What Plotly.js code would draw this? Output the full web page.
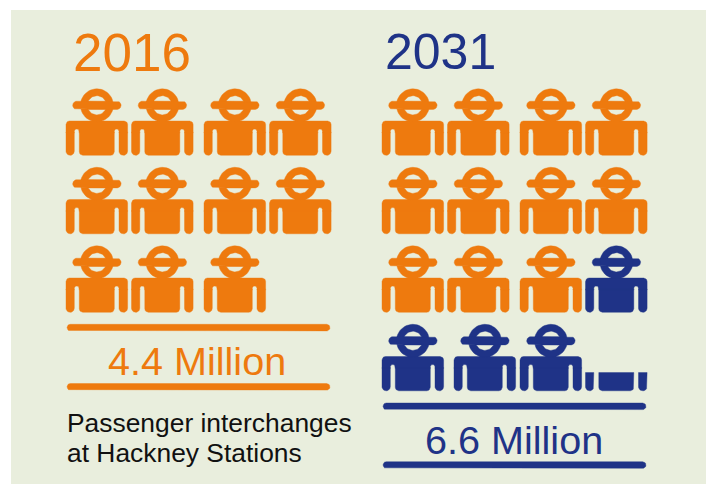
<!DOCTYPE html>
<html>
<head>
<meta charset="utf-8">
<script src="https://cdn.plot.ly/plotly-3.0.0.min.js"></script>
<style>html,body{margin:0;padding:0;background:#fff}#chart{width:710px;height:484px}</style>
</head>
<body>
<div id="chart"></div>
<script>
// ---- data ----
var years = ['2016', '2031'];
var existingIcons = [11, 11];
var addedIcons = [0, 4.275];
var totalLabels = ['4.4 Million', '6.6 Million'];
var captionLines = ['Passenger interchanges', 'at Hackney Stations'];

// ---- style / layout ----
var ORANGE = '#EE7A0E', BLUE = '#1F3387', PANEL = '#E9EEDD';
var FONT = 'Liberation Sans, Arial, sans-serif';
var blockLeft = [66, 382];
var colOffsets = [0, 65.5, 138, 203.5];
var lastRowColOffsets = [0, 72, 138, 203.5];
var firstRowTop = 89, rowPitch = 78.5, iconH = 66.3;

function roundPoly(pts) {
  var out = [], n = pts.length;
  for (var i = 0; i < n; i++) {
    var v = pts[i], a = pts[(i + n - 1) % n], b = pts[(i + 1) % n], r = v[2];
    var la = Math.hypot(v[0] - a[0], v[1] - a[1]), lb = Math.hypot(b[0] - v[0], b[1] - v[1]);
    var dp = [(v[0] - a[0]) / la, (v[1] - a[1]) / la], dn = [(b[0] - v[0]) / lb, (b[1] - v[1]) / lb];
    var c = [v[0] - r * dp[0] + r * dn[0], v[1] - r * dp[1] + r * dn[1]];
    for (var k = 0; k <= 6; k++) {
      var t = k / 6 * Math.PI / 2;
      out.push([c[0] + r * (-Math.cos(t) * dn[0] + Math.sin(t) * dp[0]),
                c[1] + r * (-Math.cos(t) * dn[1] + Math.sin(t) * dp[1])]);
    }
  }
  return out;
}
function roundedRect(x0, y0, x1, y1, r) {
  return roundPoly([[x0, y0, r], [x1, y0, r], [x1, y1, r], [x0, y1, r]]);
}
function arc(cx, cy, r, t0, t1, steps) {
  var out = [];
  for (var i = 0; i <= steps; i++) {
    var t = t0 + (t1 - t0) * i / steps;
    out.push([cx + r * Math.cos(t), cy + r * Math.sin(t)]);
  }
  return out;
}
function iconPolys() {
  var cx = 30.9, cy = 16.3, rO = 16.5, rI = 9.6, hb = 4.1;
  var a = Math.asin(hb / rI);
  var H = iconH, band = 44;
  return [
    arc(cx, cy, rO, 0, 2 * Math.PI, 48),
    arc(cx, cy, rI, Math.PI + a, 2 * Math.PI - a, 20).reverse(),
    arc(cx, cy, rI, a, Math.PI - a, 20).reverse(),
    roundedRect(cx - 24.2, cy - hb, cx + 24.2, cy + hb, hb - 0.01),
    // shoulder band with the two rounded slit tops
    roundPoly([[0, 32, 3.5], [61.6, 32, 3.5], [61.6, band, 0.01], [53, band, 0.01], [53, 40, 2.3],
               [48.3, 40, 2.3], [48.3, band, 0.01], [13.3, band, 0.01], [13.3, 40, 2.4], [8.3, 40, 2.4],
               [8.3, band, 0.01], [0, band, 0.01]]),
    // arms and torso
    roundPoly([[0, band - 1, 0.01], [8.3, band - 1, 0.01], [8.3, H, 4.1], [0, H, 4.1]]),
    roundPoly([[13.3, band - 1, 0.01], [48.3, band - 1, 0.01], [48.3, H, 3.5], [13.3, H, 3.5]]),
    roundPoly([[53, band - 1, 0.01], [61.6, band - 1, 0.01], [61.6, H, 4.1], [53, H, 4.1]])
  ];
}
function clipBelow(poly, yCut) {
  var out = [];
  for (var i = 0; i < poly.length; i++) {
    var p = poly[i], q = poly[(i + 1) % poly.length];
    var pIn = p[1] >= yCut, qIn = q[1] >= yCut;
    if (pIn) out.push(p);
    if (pIn !== qIn) {
      var s = (yCut - p[1]) / (q[1] - p[1]);
      out.push([p[0] + s * (q[0] - p[0]), yCut]);
    }
  }
  return out;
}
function addPoly(bucket, poly) {
  if (!poly.length) return;
  poly.forEach(function (p) { bucket.x.push(p[0]); bucket.y.push(p[1]); });
  bucket.x.push(poly[0][0], null); bucket.y.push(poly[0][1], null);
}
function addIcon(bucket, slot, block, share) {
  var row = Math.floor(slot / 4), col = slot % 4;
  var off = (row === 3 ? lastRowColOffsets : colOffsets)[col];
  var left = blockLeft[block] + off, top = firstRowTop + row * rowPitch;
  var cut = iconH * (1 - share);
  iconPolys().forEach(function (poly) {
    var shown = share < 1 ? clipBelow(poly, cut) : poly;
    addPoly(bucket, shown.map(function (p) { return [p[0] + left, p[1] + top]; }));
  });
}

var orange = { x: [], y: [] }, blue = { x: [], y: [] };
years.forEach(function (yr, b) {
  var slot = 0;
  for (var i = 0; i < existingIcons[b]; i++) addIcon(orange, slot++, b, 1);
  var extra = addedIcons[b];
  while (extra > 0) {
    addIcon(blue, slot++, b, Math.min(extra, 1));
    extra -= 1;
  }
});

// rule bars above and below each total
var ruleX = [[67, 330], [383, 646]];
var ruleY = [[327.6, 386.8], [406.3, 465]];
[orange, blue].forEach(function (bucket, b) {
  ruleY[b].forEach(function (y) {
    addPoly(bucket, roundedRect(ruleX[b][0], y - 3.3, ruleX[b][1], y + 3.3, 3.29));
  });
});

function polyTrace(name, bucket, color) {
  return { type: 'scatter', mode: 'lines', name: name, x: bucket.x, y: bucket.y, fill: 'toself',
           fillcolor: color, line: { width: 0.4, color: color }, hoverinfo: 'skip', showlegend: false };
}
function note(text, x, midY, size, color, anchor) {
  return { text: text, x: x, y: midY, xref: 'x', yref: 'y', showarrow: false, xanchor: anchor,
           yanchor: 'middle', font: { family: FONT, size: size, color: color } };
}

var layout = {
  width: 710, height: 484, autosize: false,
  margin: { l: 11, r: 4, t: 10, b: 0, pad: 0 },
  paper_bgcolor: '#FFFFFF', plot_bgcolor: PANEL, showlegend: false,
  xaxis: { range: [11, 706], visible: false, fixedrange: true },
  yaxis: { range: [484, 10], visible: false, fixedrange: true },
  annotations: [
    note(years[0], 131.5, 52, 53, ORANGE, 'center'),
    note(years[1], 440, 52, 50, BLUE, 'center'),
    note(totalLabels[0], 196.5, 361, 39.6, ORANGE, 'center'),
    note(totalLabels[1], 514, 440, 39.6, BLUE, 'center'),
    note(captionLines[0], 65, 422.5, 26.4, '#111111', 'left'),
    note(captionLines[1], 65, 452.5, 26.4, '#111111', 'left')
  ]
};
Plotly.newPlot('chart', [polyTrace('2016 level', orange, ORANGE), polyTrace('Growth to 2031', blue, BLUE)], layout,
  { displayModeBar: false, staticPlot: true });
</script>
</body>
</html>
